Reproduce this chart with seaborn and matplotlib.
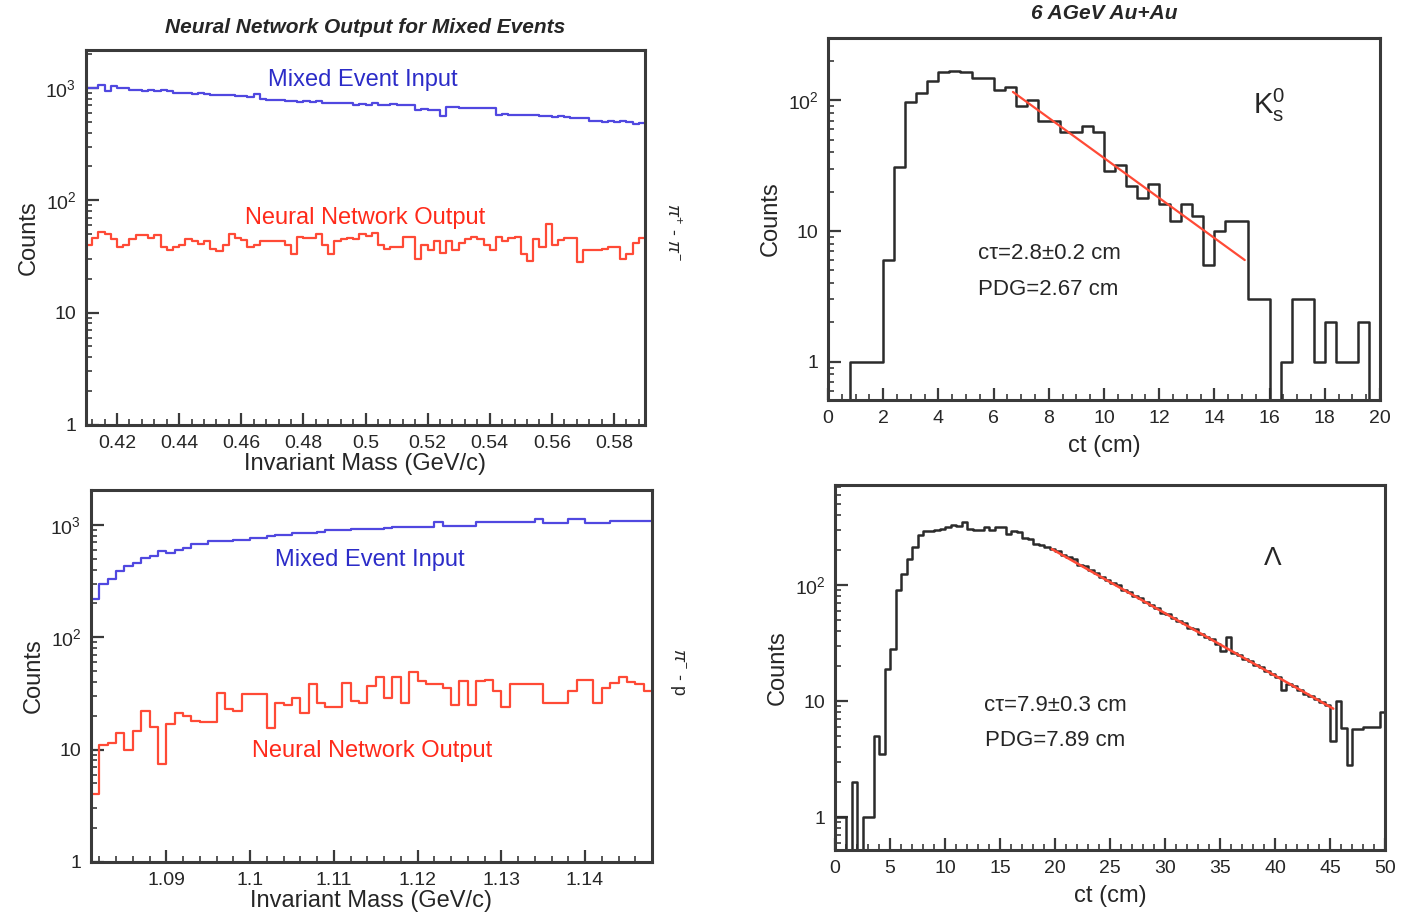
import numpy as np
import pandas as pd
import matplotlib
matplotlib.use("Agg")
import matplotlib.pyplot as plt
import seaborn as sns
from matplotlib.ticker import FixedLocator, AutoMinorLocator, LogLocator, NullFormatter

# ---- K0s panel: invariant mass pi+ pi- (0.41 - 0.59, 90 bins) ----
k0_mass_range = (0.41, 0.59)
k0_mixed = [1000, 1000, 1060, 930, 1030, 995, 995, 950, 947, 945, 947, 940, 947, 930,
            900, 897, 897, 890, 897, 890, 868, 870, 865, 868, 838, 840, 835, 880, 790, 783,
            780, 783, 757, 760, 755, 757, 750, 757, 732, 735, 728, 732, 730, 707, 712, 707,
            732, 707, 705, 712, 707, 700, 707, 640, 645, 638, 640, 557, 670, 672, 668, 661,
            665, 658, 661, 655, 577, 580, 575, 577, 570, 577, 575, 557, 560, 555, 557, 552,
            539, 542, 535, 503, 507, 500, 503, 498, 503, 500, 480, 485]
k0_nn = [40, 46, 52, 50, 45, 38, 40, 45, 49, 49, 46, 49, 38, 36, 38, 40, 45, 43, 41, 43,
         37, 35, 40, 50, 46, 44, 38, 40, 43, 43, 43, 43, 40, 33, 47, 46, 46, 50, 40, 33,
         43, 45, 46, 45, 50, 48, 51, 40, 37, 38, 38, 47, 47, 30, 40, 36, 43, 34, 43, 36,
         42, 45, 47, 45, 40, 36, 47, 43, 46, 47, 33, 29, 45, 38, 62, 40, 44, 46, 46, 28,
         36, 36, 36, 37, 38, 38, 30, 33, 42, 46]

# ---- Lambda panel: invariant mass p pi- (1.081 - 1.148, 67 bins) ----
la_mass_range = (1.081, 1.148)
la_mixed = [220, 300, 330, 390, 430, 461, 510, 530, 585, 565, 600, 620, 669, 680, 717, 717,
            717, 730, 730, 756, 756, 790, 804, 804, 850, 850, 850, 870, 891, 891, 891, 909,
            909, 909, 909, 930, 953, 953, 960, 950, 953, 1060, 974, 974, 980, 974, 1060, 1060,
            1055, 1060, 1060, 1060, 1060, 1115, 1040, 1040, 1040, 1115, 1115, 1040, 1040,
            1040, 1090, 1090, 1085, 1090, 1090]
la_nn = [4, 11, 11.5, 14, 10, 14.5, 22, 16, 7.4, 17, 21, 20, 18, 17.5, 17.5, 32, 23, 22,
         31, 31, 31, 15.5, 26, 25, 29, 21, 38, 26, 24, 24, 39, 27, 26, 37, 44, 29, 44, 26,
         49, 41, 38, 38, 35, 25, 41, 25, 41, 42, 33, 24, 38, 38, 38, 38, 26, 26, 26, 33,
         42, 42, 26, 35, 39, 44, 40, 38, 33]

# ---- K0s decay length, 0.4 cm bins over 0-20 cm ----
k0_ct_range = (0, 20)
k0_ct = [0, 0, 1, 1, 1, 6, 31, 97, 113, 140, 165, 168, 165, 148, 148, 120, 127, 91, 100, 70,
         70, 57, 57, 64, 57, 29, 32, 22, 18, 23, 16, 12, 16, 13, 5.5, 10, 12, 12, 3, 3,
         0, 1, 3, 3, 1, 2, 1, 1, 2, 0]
k0_fit_x = [6.7, 15.1]
k0_fit_y = [116, 6.0]

# ---- Lambda decay length, 0.5 cm bins over 0-50 cm ----
la_ct_range = (0, 50)
la_ct = [1, 1, 0, 2, 0, 1, 1, 5, 3.5, 19, 28, 90, 125, 167, 215, 270, 290, 295, 300, 305,
         315, 330, 325, 350, 305, 300, 300, 315, 300, 320, 320, 275, 290, 285, 255, 250, 228,
         220, 212, 205, 196, 183, 174, 168, 150, 145, 134, 128, 118, 110, 104, 100, 90, 88,
         80, 77, 71, 68, 63, 58, 56, 52, 49, 47, 43, 42, 38, 36, 34, 31, 27, 36, 26, 25, 23,
         22, 20.5, 19.5, 18, 17, 16, 12.5, 14, 13.5, 12.5, 11.5, 11, 10.5, 9.8, 9.2, 4.5, 10,
         5.9, 2.8, 5.8, 5.8, 6, 6, 6, 8]
la_fit_x = [19.7, 45.3]
la_fit_y = [205, 8.6]

W, H = 1404, 916
BLUE_LINE = "#5048e0"
BLUE_TEXT = "#2c2cc8"
RED_LINE = "#ff4a36"
RED_TEXT = "#ff2a1a"
FRAME = "#3a3a3a"

sns.set_style("ticks")
plt.rcParams["font.family"] = ["Liberation Sans", "DejaVu Sans"]
plt.rcParams["mathtext.fontset"] = "custom"
plt.rcParams["mathtext.rm"] = "Liberation Sans"
plt.rcParams["mathtext.it"] = "Liberation Sans:italic"


def steps(counts, lo, hi):
    edges = np.linspace(lo, hi, len(counts) + 1)
    vals = np.append(np.asarray(counts, float), counts[-1])
    return pd.DataFrame({"x": edges, "y": vals})


def axes_px(left, top, right, bottom):
    return fig.add_axes([left / W, 1 - bottom / H, (right - left) / W, (bottom - top) / H])


def style(ax, ylim, yticks, ylabels, xmajor, xminor, xfmt):
    ax.set_yscale("log")
    ax.set_ylim(*ylim)
    ax.yaxis.set_major_locator(FixedLocator(yticks))
    ax.set_yticklabels(ylabels)
    ax.yaxis.set_minor_locator(LogLocator(base=10, subs=np.arange(2, 10)))
    ax.yaxis.set_minor_formatter(NullFormatter())
    ax.xaxis.set_major_locator(FixedLocator(xmajor))
    ax.set_xticklabels([xfmt(v) for v in xmajor])
    ax.xaxis.set_minor_locator(AutoMinorLocator(xminor))
    ax.tick_params(which="major", direction="in", length=9, width=1.6, labelsize=14,
                   color=FRAME, pad=7)
    ax.tick_params(which="minor", direction="in", length=4.5, width=1.2, color=FRAME)
    for s in ax.spines.values():
        s.set_visible(True)
        s.set_linewidth(2.2)
        s.set_color(FRAME)
    ax.set_ylabel("Counts", fontsize=17)


fig = plt.figure(figsize=(W / 100, H / 100), dpi=100)

# ---------- top left ----------
ax = axes_px(86, 50, 645, 425)
sns.lineplot(data=steps(k0_mixed, *k0_mass_range), x="x", y="y", drawstyle="steps-post",
             estimator=None, sort=False, color=BLUE_LINE, lw=1.6, ax=ax)
sns.lineplot(data=steps(k0_nn, *k0_mass_range), x="x", y="y", drawstyle="steps-post",
             estimator=None, sort=False, color=RED_LINE, lw=1.6, ax=ax)
ax.set_xlim(*k0_mass_range)
style(ax, (1, 2170), [1, 10, 100, 1000], ["1", "10", "10$^{2}$", "10$^{3}$"],
      [0.42, 0.44, 0.46, 0.48, 0.5, 0.52, 0.54, 0.56, 0.58], 5, lambda v: f"{v:g}")
ax.set_xlabel("Invariant Mass (GeV/c)", fontsize=17, labelpad=1)
ax.text(0.496, 0.92, "Mixed Event Input", transform=ax.transAxes, ha="center", va="center",
        color=BLUE_TEXT, fontsize=17)
ax.text(0.499, 0.552, "Neural Network Output", transform=ax.transAxes, ha="center",
        va="center", color=RED_TEXT, fontsize=17)
ax.set_title("Neural Network Output for Mixed Events", fontsize=15, fontweight="bold",
             fontstyle="italic", pad=12)
fig.text(672 / W, 1 - 232 / H, "$\\pi^{+}$ - $\\pi^{-}$", rotation=-90, ha="center",
         va="center", fontsize=13)

# ---------- top right ----------
ax = axes_px(828, 38, 1380, 400)
sns.lineplot(data=steps(k0_ct, *k0_ct_range), x="x", y="y", drawstyle="steps-post",
             estimator=None, sort=False, color="#2b2b2b", lw=1.8, ax=ax)
sns.lineplot(x=k0_fit_x, y=k0_fit_y, color=RED_LINE, lw=1.6, ax=ax)
ax.set_xlim(*k0_ct_range)
style(ax, (0.51, 300), [1, 10, 100], ["1", "10", "10$^{2}$"],
      list(range(0, 21, 2)), 4, lambda v: f"{v:d}")
ax.set_xlabel("ct (cm)", fontsize=17, labelpad=6)
ax.text(0.80, 0.815, "K$^{0}_{\\mathrm{s}}$", transform=ax.transAxes, ha="center",
        va="center", fontsize=21)
ax.text(0.402, 0.406, "cτ=2.8±0.2 cm", transform=ax.transAxes, ha="center", va="center",
        fontsize=16)
ax.text(0.399, 0.304, "PDG=2.67 cm", transform=ax.transAxes, ha="center", va="center",
        fontsize=16)
ax.set_title("6 AGeV Au+Au", fontsize=15, fontweight="bold", fontstyle="italic", pad=14)

# ---------- bottom left ----------
ax = axes_px(91, 490, 652, 862)
sns.lineplot(data=steps(la_mixed, *la_mass_range), x="x", y="y", drawstyle="steps-post",
             estimator=None, sort=False, color=BLUE_LINE, lw=1.6, ax=ax)
sns.lineplot(data=steps(la_nn, *la_mass_range), x="x", y="y", drawstyle="steps-post",
             estimator=None, sort=False, color=RED_LINE, lw=1.6, ax=ax)
ax.set_xlim(*la_mass_range)
style(ax, (1, 2040), [1, 10, 100, 1000], ["1", "10", "10$^{2}$", "10$^{3}$"],
      [1.09, 1.1, 1.11, 1.12, 1.13, 1.14], 5, lambda v: f"{v:g}")
ax.set_xlabel("Invariant Mass (GeV/c)", fontsize=17, labelpad=1)
ax.text(0.497, 0.812, "Mixed Event Input", transform=ax.transAxes, ha="center", va="center",
        color=BLUE_TEXT, fontsize=17)
ax.text(0.501, 0.298, "Neural Network Output", transform=ax.transAxes, ha="center",
        va="center", color=RED_TEXT, fontsize=17)
fig.text(677 / W, 1 - 672 / H, "$\\pi^{-}$ - p", rotation=-90, ha="center", va="center",
         fontsize=13)

# ---------- bottom right ----------
ax = axes_px(835, 485, 1385, 850)
sns.lineplot(data=steps(la_ct, *la_ct_range), x="x", y="y", drawstyle="steps-post",
             estimator=None, sort=False, color="#2b2b2b", lw=1.8, ax=ax)
sns.lineplot(x=la_fit_x, y=la_fit_y, color=RED_LINE, lw=1.8, ax=ax)
ax.set_xlim(*la_ct_range)
style(ax, (0.52, 730), [1, 10, 100], ["1", "10", "10$^{2}$"],
      list(range(0, 51, 5)), 5, lambda v: f"{v:d}")
ax.set_xlabel("ct (cm)", fontsize=17, labelpad=6)
ax.text(0.796, 0.80, "Λ", transform=ax.transAxes, ha="center", va="center", fontsize=19)
ax.text(0.40, 0.397, "cτ=7.9±0.3 cm", transform=ax.transAxes, ha="center", va="center",
        fontsize=16)
ax.text(0.40, 0.301, "PDG=7.89 cm", transform=ax.transAxes, ha="center", va="center",
        fontsize=16)

fig.savefig("out.png", dpi=100)
